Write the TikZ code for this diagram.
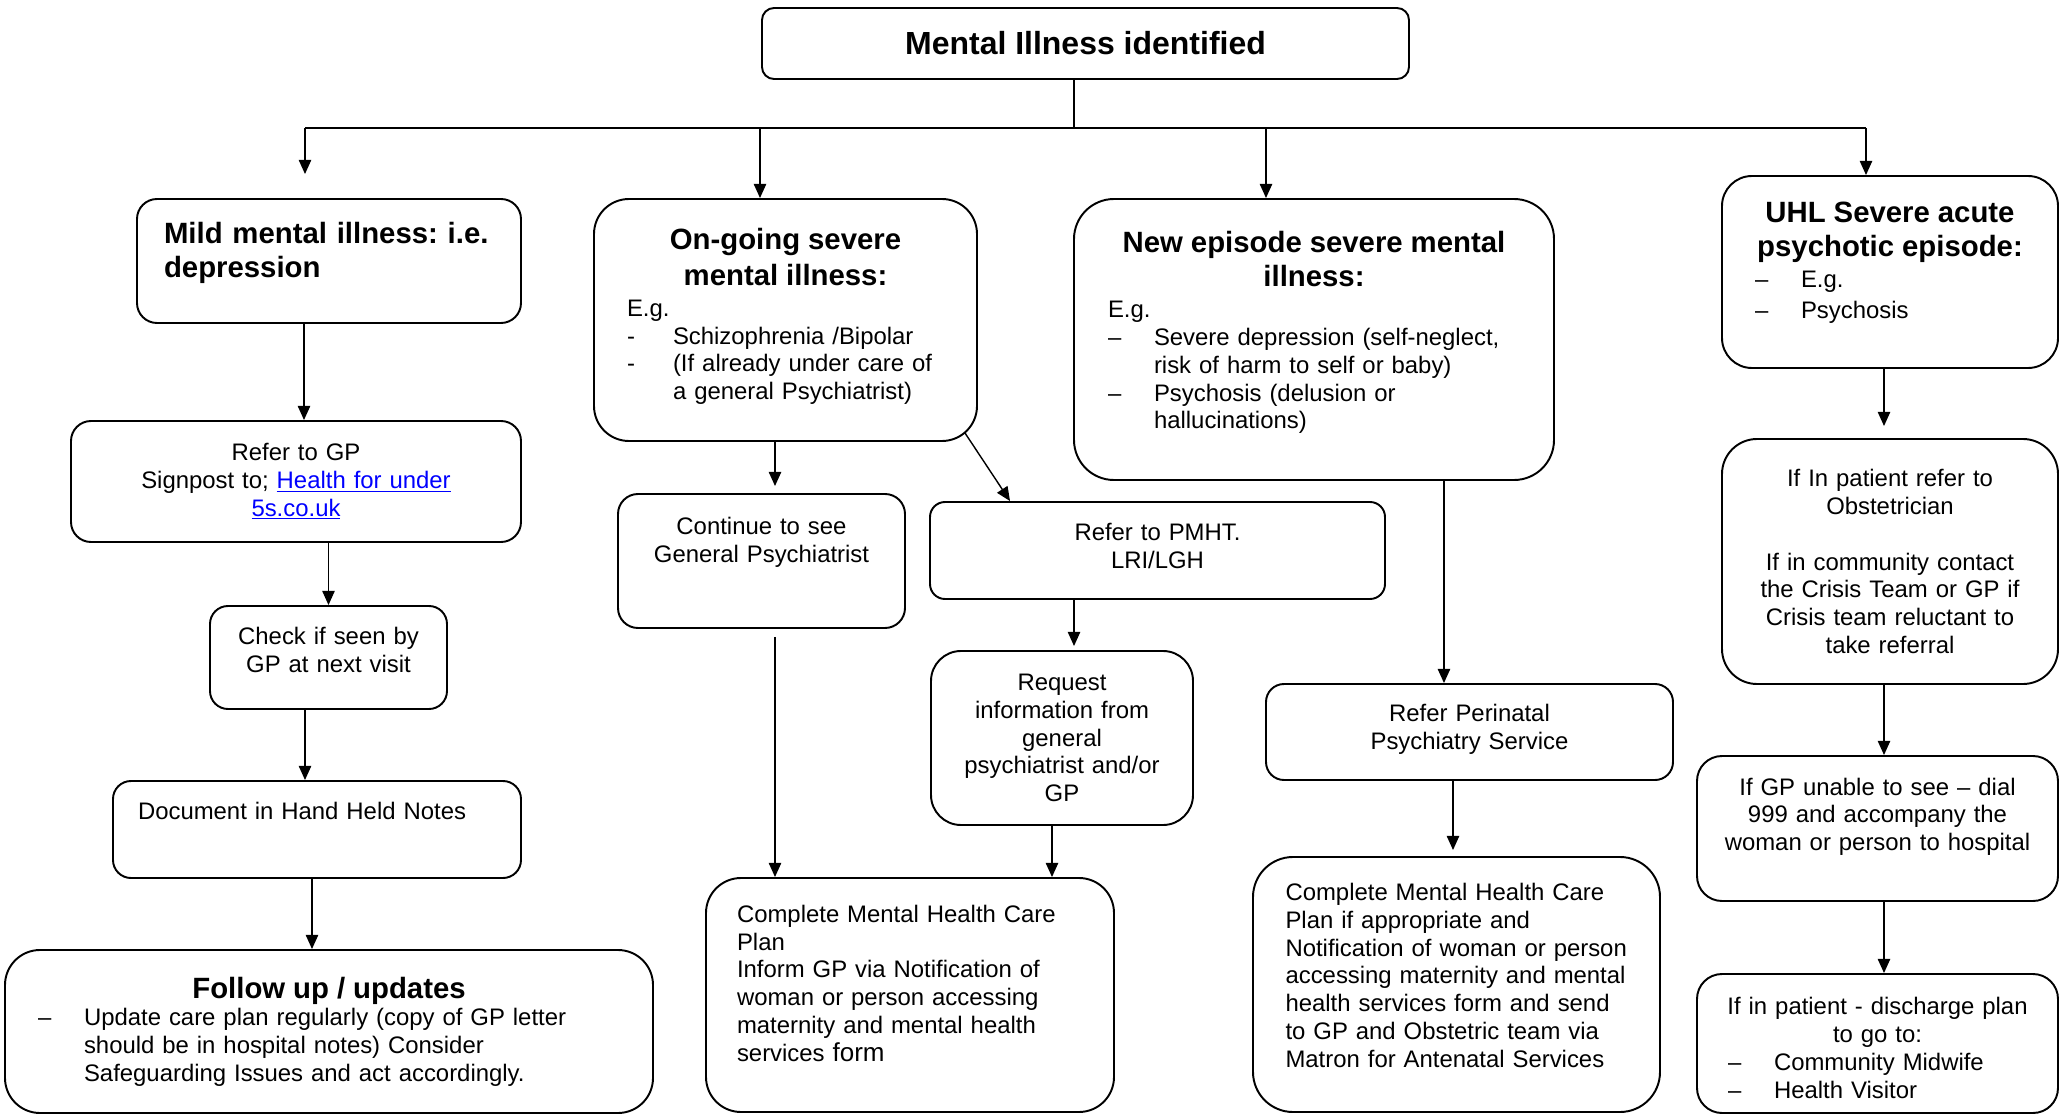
\documentclass[tikz,border=0pt]{standalone}
\usepackage{fontspec}
\setmainfont{Liberation Sans}
\usetikzlibrary{arrows.meta,positioning}
\definecolor{linkblue}{RGB}{0,0,255}
\frenchspacing
\newcommand\txtfont{\fontsize{13.6}{15.8}\selectfont}
\newcommand\hdfont{\bfseries\fontsize{16.7}{19.3}\selectfont}
\newcommand\topfont{\bfseries\fontsize{18.2}{21}\selectfont}
\newcommand\dsh[1][–]{\makebox[0.92cm][l]{#1}}
\newcommand\ind{\hspace*{0.92cm}}
\newcommand\lnk[1]{\textcolor{linkblue}{\underline{#1}}}
\newcommand\padb[1]{\rule[-#1]{0pt}{#1}}

\begin{document}
\begin{tikzpicture}[x=0.02cm, y=-0.02cm,
  box/.style n args={3}{draw, line width=1.1pt, rounded corners=#3,
    minimum width=#1*0.02cm, minimum height=#2*0.02cm, inner sep=0pt, font=\txtfont},
  arr/.style={-{Triangle[length=8pt,width=7pt]}, line width=0.8pt},
  link/.style={line width=0.8pt}]
\useasboundingbox (0,0) rectangle (2067,1115);

\node[box={647}{71}{0.24cm}, font=\topfont] (top) at (1085.5,43.5) {Mental Illness identified};

\node[box={384}{124}{0.4cm}, text width=6.6cm, align=left, font=\hdfont] (mild) at (329,261)
  {Mild mental illness: i.e.\\depression\padb{0.44cm}};
\node[box={450}{121}{0.4cm}, text width=8cm, align=center] (gp) at (296,481.5)
  {Refer to GP\\Signpost to; \lnk{Health for under}\\\lnk{5s.co.uk}};
\node[box={237}{103}{0.36cm}, text width=4.4cm, align=center] (check) at (328.5,657.5)
  {Check if seen by\\GP at next visit\padb{0.32cm}};
\node[box={408}{97}{0.36cm}, text width=7.16cm, align=left] (notes) at (317,829.5)
  {Document in Hand Held Notes\padb{0.74cm}};
\node[box={648}{163}{0.7cm}, text width=11.64cm, align=left] (follow) at (329,1031.5)
  {{\hdfont\centering Follow up / updates\par}\dsh Update care plan regularly (copy of GP letter\\\ind should be in hospital notes) Consider\\\ind Safeguarding Issues and act accordingly.};

\node[box={383}{242}{0.7cm}, text width=6.34cm, align=left] (ongoing) at (785.5,320)
  {{\hdfont\centering On-going severe\\[1pt]mental illness:\par}\vspace{2pt}E.g.\\\dsh[-]Schizophrenia /Bipolar\\\dsh[-](If already under care of\\\ind a general Psychiatrist)\padb{0.24cm}};
\node[box={287}{134}{0.4cm}, text width=5.2cm, align=center] (cont) at (761.5,561)
  {Continue to see\\General Psychiatrist\padb{0.84cm}};
\node[box={455}{97}{0.3cm}, text width=8.4cm, align=center] (pmht) at (1157.5,550.5)
  {Refer to PMHT.\\LRI/LGH\padb{0.18cm}};
\node[box={262}{174}{0.6cm}, text width=4.8cm, align=center] (req) at (1062,738)
  {Request\\information from\\general\\psychiatrist and/or\\GP};
\node[box={408}{234}{0.7cm}, text width=6.92cm, align=left] (planA) at (910,995)
  {Complete Mental Health Care\\Plan\\Inform GP via Notification of\\woman or person accessing\\maternity and mental health\\services {\fontsize{14.8}{15.8}\selectfont form}\padb{0.48cm}};

\node[box={480}{281}{0.8cm}, text width=8.24cm, align=left] (new) at (1314,339.5)
  {{\hdfont\centering New episode severe mental\\illness:\par}\vspace{2pt}E.g.\\\dsh Severe depression (self-neglect,\\\ind risk of harm to self or baby)\\\dsh Psychosis (delusion or\\\ind hallucinations)\padb{0.37cm}};
\node[box={407}{96}{0.36cm}, text width=7.6cm, align=center] (peri) at (1469.5,732)
  {Refer Perinatal\\Psychiatry Service\padb{0.2cm}};
\node[box={407}{255}{0.8cm}, text width=6.84cm, align=left] (planB) at (1456.5,984.5)
  {Complete Mental Health Care\\Plan if appropriate and\\Notification of woman or person\\accessing maternity and mental\\health services form and send\\to GP and Obstetric team via\\Matron for Antenatal Services\padb{0.37cm}};

\node[box={336}{192}{0.6cm}, text width=5.6cm, align=left] (uhl) at (1890,272)
  {{\hdfont\centering UHL Severe acute\\psychotic episode:\par}\vspace{2pt}\hspace*{0.1cm}\dsh E.g.\\[1.5pt]\hspace*{0.1cm}\dsh Psychosis\padb{0.47cm}};
\node[box={336}{245}{0.7cm}, text width=6cm, align=center] (inpat) at (1890,561.5)
  {If In patient refer to\\Obstetrician\\[15.8pt]If in community contact\\the Crisis Team or GP if\\Crisis team reluctant to\\take referral};
\node[box={361}{145}{0.5cm}, text width=6.6cm, align=center] (dial) at (1877.5,828.5)
  {If GP unable to see – dial\\999 and accompany the\\woman or person to hospital\padb{0.57cm}};
\node[box={361}{139}{0.5cm}, text width=6.5cm, align=left] (disch) at (1877.5,1043.5)
  {{\centering\rule{0pt}{0.52cm}If in patient - discharge plan\\to go to:\par}\hspace*{0.26cm}\dsh Community Midwife\\\hspace*{0.26cm}\dsh Health Visitor};

\coordinate (trunk) at (1074,128);
\coordinate (b1) at (305,128);
\coordinate (b2) at (760,128);
\coordinate (b3) at (1266,128);
\coordinate (b4) at (1866,128);
\draw[link] (trunk |- top.south) -- (trunk);
\draw[link] (b1) -- (b4);
\draw[arr, shorten >=0.48cm] (b1) -- (b1 |- mild.north);
\draw[arr] (b2) -- (b2 |- ongoing.north);
\draw[arr] (b3) -- (b3 |- new.north);
\draw[arr] (b4) -- (b4 |- uhl.north);

\draw[arr] ([xshift=-0.5cm]mild.south) -- ([xshift=-0.5cm]mild.south |- gp.north);
\draw[arr] (check.north |- gp.south) -- (check.north);
\draw[arr] ([xshift=-0.47cm]check.south) -- ([xshift=-0.47cm]check.south |- notes.north);
\draw[arr] ([xshift=-0.1cm]notes.south) -- ([xshift=-0.1cm]notes.south |- follow.north);

\draw[arr, shorten >=0.14cm] ([xshift=-0.21cm]ongoing.south) -- ([xshift=-0.21cm]ongoing.south |- cont.north);
\draw[arr] ([shift={(-0.26cm,0.18cm)}]ongoing.south east) -- ([xshift=1.62cm]pmht.north west);
\draw[arr, shorten <=0.16cm] ([xshift=0.27cm]cont.south) -- ([xshift=0.27cm]cont.south |- planA.north);
\draw[arr, shorten >=0.08cm] ([xshift=-1.67cm]pmht.south) -- ([xshift=-1.67cm]pmht.south |- req.north);
\draw[arr] ([xshift=-0.2cm]req.south) -- ([xshift=-0.2cm]req.south |- planA.north);
\draw[arr] ([xshift=2.6cm]new.south) -- ([xshift=2.6cm]new.south |- peri.north);
\draw[arr, shorten >=0.12cm] ([xshift=-0.33cm]peri.south) -- ([xshift=-0.33cm]peri.south |- planB.north);

\draw[arr, shorten >=0.24cm] ([xshift=-0.12cm]uhl.south) -- ([xshift=-0.12cm]uhl.south |- inpat.north);
\draw[arr] ([xshift=-0.12cm]inpat.south) -- ([xshift=-0.12cm]inpat.south |- dial.north);
\draw[arr] ([xshift=0.13cm]dial.south) -- ([xshift=0.13cm]dial.south |- disch.north);
\end{tikzpicture}
\end{document}
